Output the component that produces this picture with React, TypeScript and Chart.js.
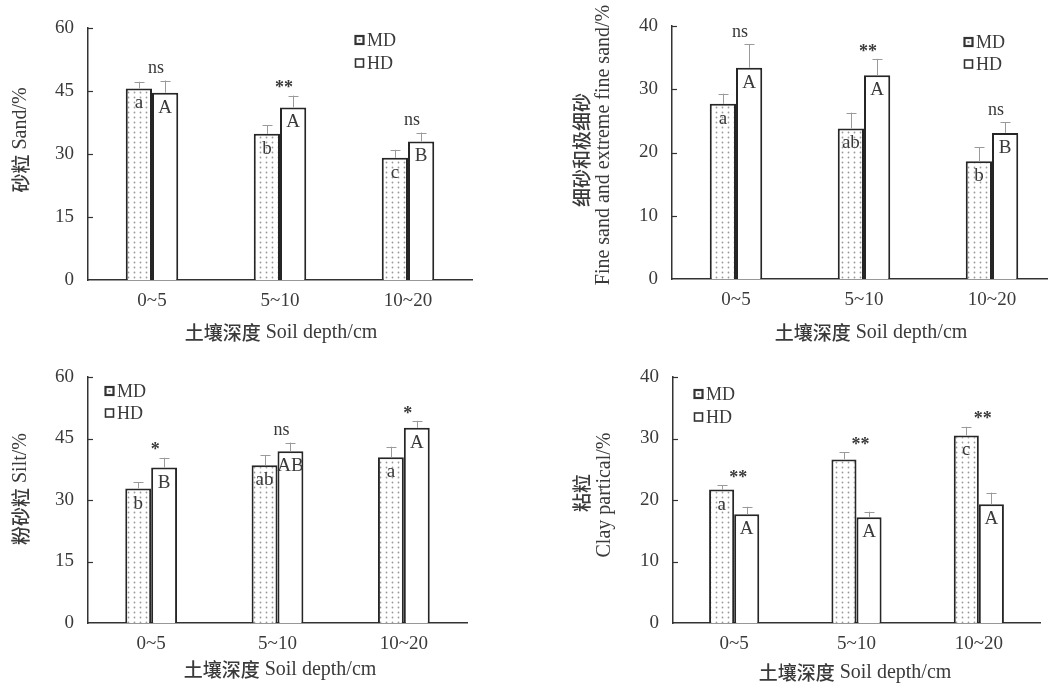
import React, { useEffect, useRef } from "react";
import { Chart, registerables } from "chart.js";

Chart.register(...registerables);

// ---------- data ----------
const depthLabels = ["0~5", "5~10", "10~20"];

const sandMD = [45.6, 34.8, 29.1];
const sandMDErr = [1.6, 2.0, 1.9];
const sandHD = [44.6, 41.1, 33.0];
const sandHDErr = [2.9, 2.8, 2.1];
const sandSig = ["ns", "**", "ns"];
const sandMDLetters = ["a", "b", "c"];
const sandHDLetters = ["A", "A", "B"];

const fineMD = [27.7, 23.8, 18.6];
const fineMDErr = [1.6, 2.5, 2.2];
const fineHD = [33.4, 32.2, 23.1];
const fineHDErr = [3.7, 2.6, 1.7];
const fineSig = ["ns", "**", "ns"];
const fineMDLetters = ["a", "ab", "b"];
const fineHDLetters = ["A", "A", "B"];

const siltMD = [32.8, 38.5, 40.4];
const siltMDErr = [1.5, 2.4, 2.6];
const siltHD = [37.9, 41.9, 47.6];
const siltHDErr = [2.4, 2.1, 1.7];
const siltSig = ["*", "ns", "*"];
const siltMDLetters = ["b", "ab", "a"];
const siltHDLetters = ["B", "AB", "A"];

const clayMD = [21.7, 26.6, 30.5];
const clayMDErr = [0.7, 1.2, 1.4];
const clayHD = [17.7, 17.2, 19.3];
const clayHDErr = [1.2, 0.9, 1.9];
const claySig = ["**", "**", "**"];
const clayMDLetters = ["a", "", "c"];
const clayHDLetters = ["A", "A", "A"];

const seriesNames = ["MD", "HD"];
const xTitleCn = "土壤深度";
const xTitleEn = "Soil depth/cm";

// ---------- styling ----------
const SERIF = '"Liberation Serif", "Times New Roman", serif';
const CJK = '"Noto Sans CJK SC", sans-serif';
const TEXT = "#3a3a3a";
const AXIS = "#333";

type Seg = { t: string; cjk?: boolean };

type PanelCfg = {
  left: number; top: number; width: number; height: number;
  area: { left: number; right: number; top: number; bottom: number };
  md: number[]; mdErr: number[]; hd: number[]; hdErr: number[];
  sig: string[]; mdLet: string[]; hdLet: string[];
  max: number; step: number;
  legend: { x: number; y1: number; y2: number };
  yTitle: { x: number; y: number; segs: Seg[] }[];
  xTitle: { x: number; y: number };
};

const panels: PanelCfg[] = [
  {
    left: 0, top: 0, width: 540, height: 350,
    area: { left: 88, right: 472, top: 28, bottom: 280 },
    md: sandMD, mdErr: sandMDErr, hd: sandHD, hdErr: sandHDErr,
    sig: sandSig, mdLet: sandMDLetters, hdLet: sandHDLetters,
    max: 60, step: 15,
    legend: { x: 355, y1: 40, y2: 63 },
    yTitle: [{ x: 21, y: 140, segs: [{ t: "砂粒", cjk: true }, { t: " Sand/%" }] }],
    xTitle: { x: 281, y: 333 },
  },
  {
    left: 540, top: 0, width: 520, height: 350,
    area: { left: 132, right: 516, top: 26, bottom: 279 },
    md: fineMD, mdErr: fineMDErr, hd: fineHD, hdErr: fineHDErr,
    sig: fineSig, mdLet: fineMDLetters, hdLet: fineHDLetters,
    max: 40, step: 10,
    legend: { x: 424, y1: 42, y2: 64 },
    yTitle: [
      { x: 42, y: 150, segs: [{ t: "细砂和极细砂", cjk: true }] },
      { x: 64, y: 145, segs: [{ t: "Fine sand and extreme fine sand/%" }] },
    ],
    xTitle: { x: 331, y: 333 },
  },
  {
    left: 0, top: 350, width: 540, height: 334,
    area: { left: 88, right: 467, top: 27, bottom: 273 },
    md: siltMD, mdErr: siltMDErr, hd: siltHD, hdErr: siltHDErr,
    sig: siltSig, mdLet: siltMDLetters, hdLet: siltHDLetters,
    max: 60, step: 15,
    legend: { x: 105, y1: 41, y2: 63 },
    yTitle: [{ x: 21, y: 139, segs: [{ t: "粉砂粒", cjk: true }, { t: " Silt/%" }] }],
    xTitle: { x: 280, y: 320 },
  },
  {
    left: 540, top: 350, width: 508, height: 334,
    area: { left: 133, right: 500, top: 27, bottom: 273 },
    md: clayMD, mdErr: clayMDErr, hd: clayHD, hdErr: clayHDErr,
    sig: claySig, mdLet: clayMDLetters, hdLet: clayHDLetters,
    max: 40, step: 10,
    legend: { x: 154, y1: 44, y2: 67 },
    yTitle: [
      { x: 42, y: 143, segs: [{ t: "粘粒", cjk: true }] },
      { x: 65, y: 145, segs: [{ t: "Clay partical/%" }] },
    ],
    xTitle: { x: 315, y: 323 },
  },
];

function segFont(s: Seg, size: number) {
  return s.cjk ? `500 ${size - 1}px ${CJK}` : `${size}px ${SERIF}`;
}

function drawSegs(ctx: CanvasRenderingContext2D, segs: Seg[], cx: number, cy: number, size: number, rotate: boolean) {
  ctx.save();
  ctx.translate(cx, cy);
  if (rotate) ctx.rotate(-Math.PI / 2);
  let total = 0;
  const widths = segs.map((s) => {
    ctx.font = segFont(s, size);
    const w = ctx.measureText(s.t).width;
    total += w;
    return w;
  });
  let x = -total / 2;
  ctx.textBaseline = "middle";
  ctx.textAlign = "left";
  ctx.fillStyle = TEXT;
  segs.forEach((s, i) => {
    ctx.font = segFont(s, size);
    ctx.fillText(s.t, x, 0);
    x += widths[i];
  });
  ctx.restore();
}

function makePattern(): CanvasPattern | string {
  const tile = document.createElement("canvas");
  tile.width = 6;
  tile.height = 5;
  const c = tile.getContext("2d");
  if (!c) return "#eee";
  c.fillStyle = "#fff";
  c.fillRect(0, 0, 6, 5);
  c.fillStyle = "#9a9a9a";
  c.beginPath();
  c.arc(2.5, 2.5, 0.9, 0, Math.PI * 2);
  c.fill();
  const p = c.createPattern(tile, "repeat");
  return p || "#eee";
}

function PanelChart({ cfg }: { cfg: PanelCfg }) {
  const ref = useRef<HTMLCanvasElement | null>(null);
  useEffect(() => {
    const canvas = ref.current;
    if (!canvas) return;
    const pattern = makePattern();
    const errs = [cfg.mdErr, cfg.hdErr];
    const letters = [cfg.mdLet, cfg.hdLet];

    const overlay = {
      id: "overlay",
      afterDatasetsDraw(chart: any) {
        const ctx: CanvasRenderingContext2D = chart.ctx;
        const ys = chart.scales.y;
        const xs = chart.scales.x;
        const area = chart.chartArea;
        ctx.save();
        // inward tick marks
        ctx.strokeStyle = AXIS;
        ctx.lineWidth = 1.2;
        ys.ticks.forEach((t: any) => {
          if (t.value === 0) return;
          const py = Math.round(ys.getPixelForValue(t.value)) + 0.5;
          ctx.beginPath();
          ctx.moveTo(area.left, py);
          ctx.lineTo(area.left + 5, py);
          ctx.stroke();
        });
        // error bars + letters
        const tops: number[] = depthLabels.map(() => Infinity);
        chart.data.datasets.forEach((ds: any, di: number) => {
          const meta = chart.getDatasetMeta(di);
          meta.data.forEach((bar: any, i: number) => {
            const v = ds.data[i] as number;
            const topPx = ys.getPixelForValue(v + errs[di][i]);
            tops[i] = Math.min(tops[i], topPx);
            const bx = Math.round(bar.x) + 0.5;
            ctx.strokeStyle = "#9a9a9a";
            ctx.lineWidth = 1;
            ctx.beginPath();
            ctx.moveTo(bx, bar.y);
            ctx.lineTo(bx, topPx);
            ctx.moveTo(bx - 5, Math.round(topPx) + 0.5);
            ctx.lineTo(bx + 5, Math.round(topPx) + 0.5);
            ctx.stroke();
            const L = letters[di][i];
            if (L) {
              ctx.fillStyle = TEXT;
              ctx.font = `19px ${SERIF}`;
              ctx.textAlign = "center";
              ctx.textBaseline = "middle";
              ctx.fillText(L, bar.x, bar.y + 15);
            }
          });
        });
        // significance labels
        cfg.sig.forEach((s, i) => {
          const cx = xs.getPixelForValue(i) + 4;
          let cy = tops[i] - 12;
          ctx.fillStyle = TEXT;
          ctx.textAlign = "center";
          ctx.textBaseline = "middle";
          if (s.includes("*")) {
            ctx.font = `bold 18px ${SERIF}`;
            cy += 5;
          } else {
            ctx.font = `18px ${SERIF}`;
          }
          ctx.fillText(s, cx, cy);
        });
        // legend
        const lg = cfg.legend;
        [lg.y1, lg.y2].forEach((ly, k) => {
          ctx.fillStyle = "#fff";
          ctx.fillRect(lg.x, ly - 4.5, 9, 9);
          ctx.strokeStyle = "#333";
          ctx.lineWidth = k === 0 ? 2.2 : 1.6;
          ctx.strokeRect(lg.x + 0.5, ly - 4, 8, 8);
          if (k === 0) {
            ctx.fillStyle = "#888";
            ctx.fillRect(lg.x + 3.5, ly - 1, 2, 2);
          }
          ctx.fillStyle = TEXT;
          ctx.font = `18px ${SERIF}`;
          ctx.textAlign = "left";
          ctx.textBaseline = "middle";
          ctx.fillText(seriesNames[k], lg.x + 12, ly + 1);
        });
        // titles
        cfg.yTitle.forEach((yt) => drawSegs(ctx, yt.segs, yt.x, yt.y, 20, true));
        drawSegs(ctx, [{ t: xTitleCn, cjk: true }, { t: " " + xTitleEn }], cfg.xTitle.x, cfg.xTitle.y, 20, false);
        ctx.restore();
      },
    };

    const a = cfg.area;
    const chart = new Chart(canvas, {
      type: "bar",
      data: {
        labels: depthLabels,
        datasets: [
          {
            label: seriesNames[0],
            data: cfg.md,
            backgroundColor: pattern as any,
            borderColor: "#262626",
            borderWidth: 2,
            categoryPercentage: 0.41,
            barPercentage: 1,
          },
          {
            label: seriesNames[1],
            data: cfg.hd,
            backgroundColor: "#ffffff",
            borderColor: "#262626",
            borderWidth: 2,
            categoryPercentage: 0.41,
            barPercentage: 1,
          },
        ],
      },
      options: {
        responsive: false,
        animation: false,
        devicePixelRatio: 1,
        layout: { padding: { left: 0, top: a.top, right: cfg.width - a.right, bottom: 0 } },
        plugins: { legend: { display: false }, tooltip: { enabled: false }, title: { display: false } },
        scales: {
          x: {
            type: "category",
            offset: true,
            grid: { display: false, drawTicks: false },
            border: { display: true, color: AXIS, width: 1.5 },
            ticks: { color: TEXT, font: { family: SERIF, size: 19 }, padding: 10 },
            afterFit: (s: any) => {
              s.height = cfg.height - a.bottom;
            },
          },
          y: {
            min: 0,
            max: cfg.max,
            grid: { display: false, drawTicks: false },
            border: { display: true, color: AXIS, width: 1.5 },
            ticks: { stepSize: cfg.step, color: TEXT, font: { family: SERIF, size: 19 }, padding: 14 },
            afterFit: (s: any) => {
              s.width = a.left;
            },
          },
        },
      },
      plugins: [overlay],
    } as any);
    return () => chart.destroy();
  }, [cfg]);

  return (
    <div
      style={{
        position: "absolute",
        left: cfg.left,
        top: cfg.top,
        width: cfg.width,
        height: cfg.height,
      }}
    >
      <canvas ref={ref} width={cfg.width} height={cfg.height} style={{ width: cfg.width, height: cfg.height, display: "block" }} />
    </div>
  );
}

export default function App() {
  return (
    <div
      style={{
        position: "fixed",
        left: 0,
        top: 0,
        width: 1048,
        height: 684,
        overflow: "hidden",
        background: "#fff",
      }}
    >
      {panels.map((p, i) => (
        <PanelChart key={i} cfg={p} />
      ))}
    </div>
  );
}
